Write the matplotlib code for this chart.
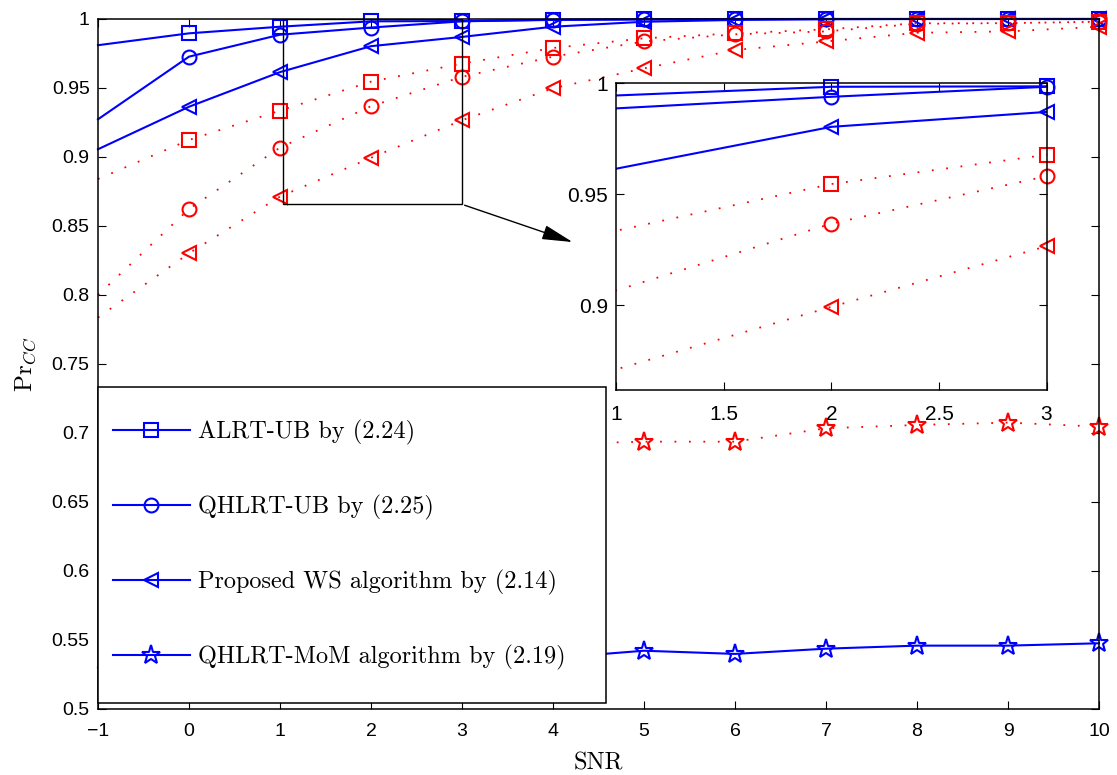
import numpy as np
import matplotlib
matplotlib.use('Agg')
import matplotlib.pyplot as plt
from matplotlib.patches import Rectangle
from matplotlib.ticker import FormatStrFormatter
from matplotlib.font_manager import FontProperties

plt.rcParams['font.family'] = ['Liberation Sans', 'DejaVu Sans']
plt.rcParams['mathtext.fontset'] = 'cm'

# Вероятность правильной классификации от ОСШ
snr = [-1, 0, 1, 2, 3, 4, 5, 6, 7, 8, 9, 10]

alrt_ub = [0.981, 0.9896, 0.9944, 0.9983, 0.9985, 0.9993, 0.9997, 0.9999, 1.0, 1.0, 1.0, 1.0]
qhlrt_ub = [0.9273, 0.9727, 0.9886, 0.9938, 0.9983, 0.9995, 0.9998, 1.0, 1.0, 1.0, 1.0, 1.0]
ws_alg = [0.9056, 0.9364, 0.9615, 0.9803, 0.9870, 0.9944, 0.998, 0.9993, 0.9998, 1.0, 1.0, 1.0]
qhlrt_mom = [0.530, 0.532, 0.534, 0.535, 0.536, 0.537, 0.5422, 0.5399, 0.5437, 0.5459, 0.5459, 0.5476]

alrt_ub_r = [0.884, 0.9123, 0.9336, 0.9546, 0.9677, 0.979, 0.986, 0.9896, 0.9925, 0.9969, 0.997, 0.998]
qhlrt_ub_r = [0.800, 0.8623, 0.9068, 0.9368, 0.9581, 0.9727, 0.9837, 0.9889, 0.991, 0.9965, 0.997, 0.998]
ws_alg_r = [0.7836, 0.8302, 0.8713, 0.8994, 0.9266, 0.9498, 0.9642, 0.9775, 0.9837, 0.990, 0.991, 0.9944]
qhlrt_mom_r = [0.672, 0.680, 0.686, 0.689, 0.691, 0.692, 0.6937, 0.6937, 0.7034, 0.7058, 0.7075, 0.7046]

labels = ['ALRT-UB by (2.24)', 'QHLRT-UB by (2.25)',
          'Proposed WS algorithm by (2.14)', 'QHLRT-MoM algorithm by (2.19)']

blue_series = [(alrt_ub, 's'), (qhlrt_ub, 'o'), (ws_alg, '<'), (qhlrt_mom, '*')]
red_series = [(alrt_ub_r, 's'), (qhlrt_ub_r, 'o'), (ws_alg_r, '<'), (qhlrt_mom_r, '*')]

dot = (0, (1, 7))
msize = {'s': 10, 'o': 10, '<': 10, '*': 14}

fig = plt.figure(figsize=(11.17, 7.75), dpi=100)
ax = fig.add_axes([0.0877, 0.0852, 0.8962, 0.8903])

handles = []
for (vals, m), lab in zip(blue_series, labels):
    h, = ax.plot(snr, vals, color='b', lw=1.5, marker=m, ms=msize[m], mfc='none',
                 mec='b', mew=1.5, markevery=list(range(1, 12)), clip_on=False, label=lab)
    handles.append(h)
for vals, m in red_series:
    ax.plot(snr, vals, color='r', lw=1.3, ls=dot, marker=m, ms=msize[m], mfc='none',
            mec='r', mew=1.5, markevery=list(range(1, 12)), clip_on=False)

ax.set_xlim(-1, 10)
ax.set_ylim(0.5, 1)
ax.set_xticks(range(-1, 11))
ax.set_yticks(np.arange(0.5, 1.001, 0.05))
ax.yaxis.set_major_formatter(FormatStrFormatter('%g'))
ax.tick_params(direction='in', top=True, right=True, length=6, labelsize=14)
ax.tick_params(axis='x', pad=10)
ax.tick_params(axis='y', pad=6)
for s in ax.spines.values():
    s.set_linewidth(1.1)

ax.set_xlabel('SNR', family='cmr10', fontsize=17.5, labelpad=9)
ax.set_ylabel(r'$\mathrm{Pr}_{CC}$', fontsize=18, labelpad=10)

# Область увеличения и стрелка к врезке
ax.add_patch(Rectangle((1.03, 0.8657), 1.97, 0.1343, fill=False, ec='k', lw=1, zorder=5))
ax.annotate('', xy=(4.244, 0.8377), xytext=(3.0, 0.8657),
            arrowprops=dict(arrowstyle='-|>,head_length=1.9,head_width=0.45',
                            mutation_scale=10, color='k', lw=1))

# Рамка легенды отдельно, чтобы задать отступы как в MATLAB
ax.add_patch(Rectangle((0, 0.0087), 0.5075, 0.458, transform=ax.transAxes,
                       fc='w', ec='k', lw=1.1, zorder=9, clip_on=False))
leg = ax.legend(handles=handles, loc='center left', bbox_to_anchor=(0.0147, 0.2377),
                borderaxespad=0, borderpad=0, prop=FontProperties(family='cmr10', size=17.5),
                labelspacing=2.06, handlelength=3.17, handletextpad=0.33, frameon=False)
leg.set_zorder(10)

# Врезка: увеличенный участок 1..3 дБ
ins = fig.add_axes([0.5519, 0.4968, 0.3850, 0.3961])
for vals, m in blue_series[:3]:
    ins.plot(snr, vals, color='b', lw=1.5)
    ins.plot(snr, vals, ls='none', marker=m, ms=msize[m], mfc='none', mec='b', mew=1.5,
             markevery=[3, 4], clip_on=False)
for vals, m in red_series[:3]:
    ins.plot(snr, vals, color='r', lw=1.3, ls=dot)
    ins.plot(snr, vals, ls='none', marker=m, ms=msize[m], mfc='none', mec='r', mew=1.5,
             markevery=[3, 4], clip_on=False)
ins.set_xlim(1, 3)
ins.set_ylim(0.862, 1.0)
ins.set_xticks([1, 1.5, 2, 2.5, 3])
ins.set_yticks([0.9, 0.95, 1.0])
ins.xaxis.set_major_formatter(FormatStrFormatter('%g'))
ins.yaxis.set_major_formatter(FormatStrFormatter('%g'))
ins.tick_params(direction='in', top=True, right=True, length=6, labelsize=15)
ins.tick_params(axis='x', pad=11)
ins.tick_params(axis='y', pad=6)
for s in ins.spines.values():
    s.set_linewidth(1.1)

fig.savefig('out.png', dpi=100)
